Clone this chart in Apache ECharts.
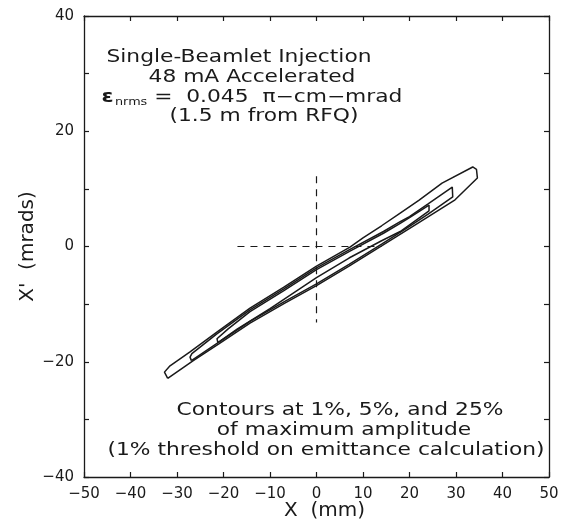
<!DOCTYPE html>
<html>
<head>
<meta charset="utf-8">
<script src="https://cdn.jsdelivr.net/npm/echarts@6/dist/echarts.min.js"></script>
<style>
html,body{margin:0;padding:0;background:#fff;}
#chart{width:567px;height:526px;}
</style>
</head>
<body>
<div id="chart"></div>
<script>
// ---- data (x in mm, x' in mrad) ----
const outerContour = [ // 1% contour
  [-32.0,-22.9],[-26.5,-19.8],[-21.0,-16.9],[-14.3,-13.3],[-7.0,-9.9],[0.0,-6.8],
  [7.0,-3.4],[14.0,0.1],[21.5,3.9],[29.8,8.1],[34.6,11.9],[34.4,13.4],[33.6,13.8],
  [27.0,11.0],[22.0,8.0],[18.0,5.8],[14.0,3.6],[10.0,1.5],[7.2,-0.1],[0.0,-3.4],
  [-7.1,-7.1],[-14.3,-10.7],[-21.5,-14.9],[-27.2,-18.3],[-31.5,-20.7],[-32.7,-21.8],[-32.0,-22.9]
];
const middleContour = [ // 5% contour
  [-26.9,-19.8],[-21.0,-16.6],[-14.3,-13.0],[-7.0,-9.6],[0.0,-6.5],[7.0,-3.1],
  [14.0,0.4],[20.0,3.5],[24.0,5.6],[29.3,8.6],[29.2,10.3],[28.9,10.4],[24.0,7.4],
  [20.0,5.2],[18.0,4.3],[14.4,2.6],[7.2,-0.5],[0.0,-3.7],[-7.1,-7.4],[-14.3,-11.0],
  [-21.5,-15.2],[-26.8,-18.6],[-27.2,-19.2],[-26.9,-19.8]
];
const innerContour = [ // 25% contour
  [-21.2,-16.7],[-17.0,-14.3],[-10.0,-10.8],[0.0,-5.4],[7.0,-2.0],[14.0,1.0],
  [18.0,2.6],[24.2,6.2],[24.2,7.2],[20.0,5.0],[18.0,4.0],[14.4,2.3],[7.2,-0.8],
  [0.0,-4.0],[-7.1,-7.7],[-14.3,-11.3],[-19.0,-14.3],[-21.4,-16.0],[-21.2,-16.7]
];
const crossH = [[-17,0],[14,0]];
const crossV = [[0,12.2],[0,-13.2]];

const xRange = [-50, 50], xStep = 10;
const yRange = [-40, 40], yStep = 10, yLabelStep = 20;

const topText = [
  'Single-Beamlet Injection',
  '48 mA Accelerated',
  '{e|\u03B5}{s|nrms}{t| =  0.045  \u03C0\u2212cm\u2212mrad}',
  '(1.5 m from RFQ)'
];
const bottomText = [
  'Contours at 1%, 5%, and 25%',
  'of maximum amplitude',
  '(1% threshold on emittance calculation)'
];
const xTitle = 'X  (mm)';
const yTitle = "X'  (mrads)";

// ---- chart ----
const FONT = 'DejaVu Sans';
const INK = '#1a1a1a';
function fmtNum(v){ return v < 0 ? '\u2212' + Math.abs(v) : String(v); }

const chart = echarts.init(document.getElementById('chart'), null, {renderer:'canvas'});

const axisCommon = {
  axisLine:{show:true, onZero:false, lineStyle:{color:INK, width:1.3}},
  axisTick:{show:true, inside:true, length:5, lineStyle:{color:INK, width:1.2}},
  splitLine:{show:false}
};

function contourSeries(name, data){
  return {name, type:'line', data, showSymbol:false, symbol:'none', smooth:false,
    lineStyle:{color:INK, width:1.5}, z:3, silent:true};
}

const topCenters = [[239,58],[252,78],[252,98],[264,117]];
const botCenters = [[340,411],[344,431],[326,451]];

const graphics = [];
topText.forEach((t,i)=>{
  graphics.push({type:'text', x:topCenters[i][0], y:topCenters[i][1], scaleX:1.28,
    style:{text:t, font:'17px "'+FONT+'"', fill:INK, textAlign:'center', align:'center',
      textVerticalAlign:'middle', verticalAlign:'middle',
      rich:{e:{font:'bold 17px "'+FONT+'"', fill:INK}, s:{font:'10px "'+FONT+'"', fill:INK, padding:[8,0,0,1]},
            t:{font:'17px "'+FONT+'"', fill:INK}}}});
});
bottomText.forEach((t,i)=>{
  graphics.push({type:'text', x:botCenters[i][0], y:botCenters[i][1], scaleX:1.28,
    style:{text:t, font:'17px "'+FONT+'"', fill:INK, textAlign:'center', align:'center',
      textVerticalAlign:'middle', verticalAlign:'middle'}});
});

chart.setOption({
  animation:false,
  backgroundColor:'#fff',
  grid:{left:84, right:18, top:16, bottom:48, containLabel:false},
  xAxis:[
    Object.assign({type:'value', min:xRange[0], max:xRange[1], interval:xStep, position:'bottom',
      name:xTitle, nameLocation:'middle', nameGap:24, nameMoveOverlap:false,
      nameTextStyle:{fontFamily:FONT, fontSize:20, color:INK, padding:[0,0,0,16]},
      axisLabel:{show:true, margin:10, fontFamily:FONT, fontSize:15, color:INK, formatter:fmtNum}}, axisCommon),
    Object.assign({type:'value', min:xRange[0], max:xRange[1], interval:xStep, position:'top',
      axisLabel:{show:false}}, axisCommon)
  ],
  yAxis:[
    Object.assign({type:'value', min:yRange[0], max:yRange[1], interval:yStep, position:'left',
      name:yTitle, nameLocation:'middle', nameGap:46, nameMoveOverlap:false,
      nameTextStyle:{fontFamily:FONT, fontSize:20, color:INK},
      axisLabel:{show:true, margin:10, fontFamily:FONT, fontSize:15, color:INK,
        formatter:v => (v % yLabelStep === 0 ? fmtNum(v) : '')}}, axisCommon),
    Object.assign({type:'value', min:yRange[0], max:yRange[1], interval:yStep, position:'right',
      axisLabel:{show:false}}, axisCommon)
  ],
  series:[
    contourSeries('1%', outerContour),
    contourSeries('5%', middleContour),
    contourSeries('25%', innerContour),
    {type:'line', data:crossH, showSymbol:false, symbol:'none', lineStyle:{color:INK, width:1.2, type:[7,6]}, z:2, silent:true},
    {type:'line', data:crossV, showSymbol:false, symbol:'none', lineStyle:{color:INK, width:1.2, type:[7,6]}, z:2, silent:true}
  ],
  graphic:graphics
});
</script>
</body>
</html>
